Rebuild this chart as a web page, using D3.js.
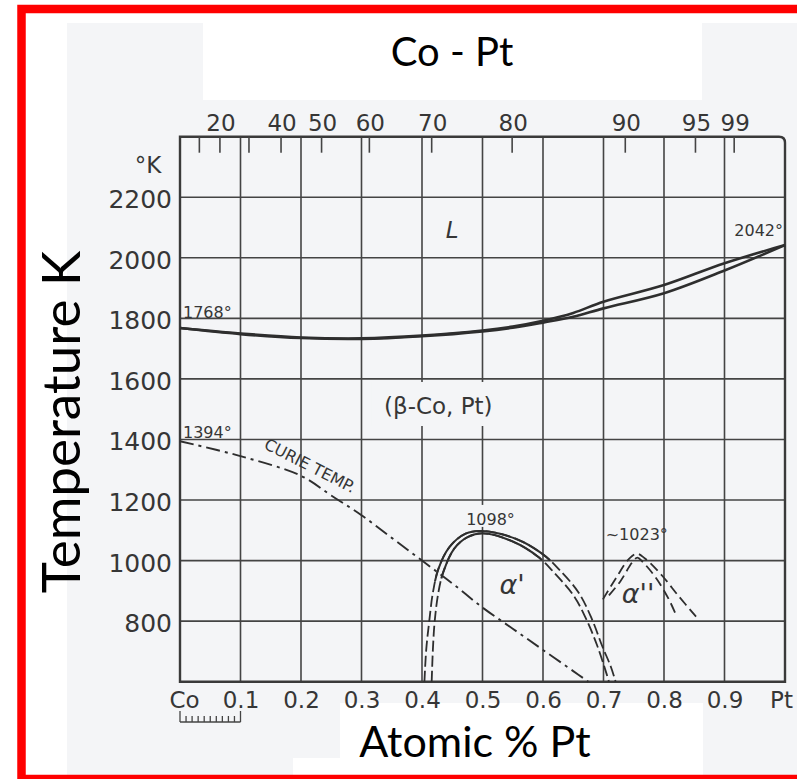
<!DOCTYPE html>
<html>
<head>
<meta charset="utf-8">
<script src="https://cdn.jsdelivr.net/npm/d3@7"></script>
<style>
  html, body { margin: 0; padding: 0; background: #ffffff; }
  svg { display: block; }
</style>
</head>
<body>
<svg id="chart" width="797" height="779"></svg>
<script>
// ---- Composition axis: atomic fraction of Pt (0 = pure Co, 1 = pure Pt)
const atomicTicks  = [0, 0.1, 0.2, 0.3, 0.4, 0.5, 0.6, 0.7, 0.8, 0.9, 1.0];
const atomicLabels = ["Co", "0.1", "0.2", "0.3", "0.4", "0.5", "0.6", "0.7", "0.8", "0.9", "Pt"];

// ---- Weight-percent Pt scale on the top edge, at its atomic-fraction position
const weightLabels   = ["", "20", "", "40", "50", "60", "70", "80", "90", "95", "99"];
const weightAtAtomic = [0.032, 0.066, 0.114, 0.167, 0.234, 0.313, 0.416, 0.549, 0.736, 0.852, 0.916];

// ---- Temperature axis (K)
const tempTicks  = [800, 1000, 1200, 1400, 1600, 1800, 2000, 2200];
const tempDomain = [600, 2400];

// ---- Phase boundaries: [atomic fraction Pt, T in K]
const liquidus = [[0, 1768], [0.1, 1750], [0.2, 1737], [0.3, 1734], [0.4, 1743], [0.5, 1760],
                  [0.55, 1773], [0.6, 1792], [0.65, 1818], [0.7, 1855], [0.8, 1910],
                  [0.9, 1982], [1.0, 2042]];
const solidus  = [[0, 1768], [0.1, 1748], [0.2, 1735], [0.3, 1732], [0.4, 1741], [0.5, 1757],
                  [0.55, 1769], [0.6, 1786], [0.65, 1805], [0.7, 1833], [0.8, 1883],
                  [0.9, 1958], [1.0, 2042]];
const curieTemp = [[0, 1394], [0.1, 1345], [0.2, 1280], [0.25, 1215], [0.3, 1150], [0.35, 1075],
                   [0.4, 1000], [0.45, 925], [0.5, 845], [0.55, 775], [0.6, 705], [0.65, 635],
                   [0.675, 600]];
// ordered alpha' (CoPt) region, two boundary lines
const alphaPrimeOuter = [[0.404, 600], [0.407, 706], [0.412, 800], [0.418, 894], [0.427, 972],
                         [0.445, 1044], [0.472, 1089], [0.5, 1098], [0.555, 1072], [0.599, 1022],
                         [0.626, 972], [0.659, 894], [0.681, 806], [0.698, 717], [0.712, 650],
                         [0.72, 600]];
const alphaPrimeInner = [[0.416, 600], [0.418, 706], [0.421, 800], [0.427, 894], [0.435, 961],
                         [0.453, 1039], [0.476, 1078], [0.5, 1090], [0.55, 1063], [0.593, 1011],
                         [0.618, 961], [0.651, 883], [0.673, 800], [0.69, 717], [0.703, 639],
                         [0.709, 600]];
// ordered alpha'' (CoPt3) region, two boundary lines
const alphaDoublePrimeOuter = [[0.699, 872], [0.72, 940], [0.741, 1003], [0.755, 1023],
                               [0.768, 1008], [0.797, 950], [0.824, 883], [0.853, 815]];
const alphaDoublePrimeInner = [[0.709, 885], [0.728, 932], [0.747, 993], [0.756, 1010],
                               [0.765, 995], [0.786, 945], [0.808, 872], [0.821, 815]];

// ---- Special temperatures marked on the diagram
const pureCoMelt = 1768, purePtMelt = 2042, coCurie = 1394;
const alphaPrimeMax = 1098, alphaDoublePrimeMax = 1023;

// ---------------------------------------------------------------------------
const svg = d3.select("#chart");
const W = 797, H = 779;
const plot = { left: 180, right: 785, top: 136.7, bottom: 681.7 };

const x = d3.scaleLinear().domain([0, 1]).range([plot.left, plot.right]);
const y = d3.scaleLinear().domain(tempDomain).range([plot.bottom, plot.top]);

const paper = "#f4f5f7";
const ink = "#363636";
const labelFont = "'DejaVu Sans', sans-serif";
const bigFont = "Lato, 'Open Sans', sans-serif";

// page
svg.append("rect").attr("width", W).attr("height", H).attr("fill", "#ffffff");
svg.append("rect").attr("x", 67).attr("y", 23).attr("width", W - 67).attr("height", 752).attr("fill", paper);
svg.append("rect").attr("x", 203).attr("y", 23).attr("width", 499).attr("height", 77).attr("fill", "#ffffff");
svg.append("rect").attr("x", 340).attr("y", 703).attr("width", 363).attr("height", 72).attr("fill", "#ffffff");
svg.append("rect").attr("x", 293).attr("y", 758).attr("width", 47).attr("height", 17).attr("fill", "#ffffff");

// grid
const grid = svg.append("g").attr("stroke", "#444").attr("stroke-width", 1.6).attr("fill", "none");
grid.selectAll("line.v").data(atomicTicks.slice(1, -1)).join("line")
  .attr("x1", d => x(d)).attr("x2", d => x(d))
  .attr("y1", plot.top).attr("y2", plot.bottom);
grid.selectAll("line.h").data(tempTicks).join("line")
  .attr("x1", plot.left).attr("x2", plot.right)
  .attr("y1", d => y(d)).attr("y2", d => y(d));

// frame
svg.append("path")
  .attr("d", `M${plot.left},${plot.bottom} V${plot.top} H${plot.right - 6} Q${plot.right},${plot.top} ${plot.right},${plot.top + 6} V${plot.bottom} Z`)
  .attr("fill", "none").attr("stroke", "#3a3a3a").attr("stroke-width", 2.4);

// top weight-percent ticks
const topAxis = svg.append("g");
topAxis.selectAll("line").data(weightAtAtomic).join("line")
  .attr("x1", d => x(d)).attr("x2", d => x(d))
  .attr("y1", plot.top).attr("y2", plot.top + 16)
  .attr("stroke", "#444").attr("stroke-width", 1.6);
topAxis.selectAll("text").data(weightAtAtomic).join("text")
  .attr("x", d => x(d) + 1).attr("y", plot.top - 6)
  .attr("text-anchor", "middle")
  .attr("font-family", labelFont).attr("font-size", 23).attr("fill", ink)
  .text((d, i) => weightLabels[i]);

// left temperature labels
const leftAxis = d3.axisLeft(y).tickValues(tempTicks).tickSize(0).tickPadding(8).tickFormat(d3.format("d"));
const gl = svg.append("g").attr("transform", `translate(${plot.left},0)`).call(leftAxis);
gl.select(".domain").remove();
gl.selectAll("text").attr("font-family", labelFont).attr("font-size", 25).attr("fill", ink).attr("dy", "0.42em");
svg.append("text").attr("x", 148).attr("y", 173).attr("text-anchor", "middle")
  .attr("font-family", labelFont).attr("font-size", 23).attr("fill", ink).text("°K");

// bottom composition labels
const bottomAxis = d3.axisBottom(x).tickValues(atomicTicks).tickSize(0).tickPadding(10)
  .tickFormat((d, i) => atomicLabels[i]);
const gb = svg.append("g").attr("transform", `translate(0,${plot.bottom})`).call(bottomAxis);
gb.select(".domain").remove();
gb.selectAll("text").attr("font-family", labelFont).attr("font-size", 23).attr("fill", ink)
  .attr("dx", (d, i) => i === 0 ? 4 : (i === atomicTicks.length - 1 ? -4 : 0));

// small ruler under "Co 0.1"
const ruler = svg.append("g").attr("stroke", "#444").attr("stroke-width", 1.3);
ruler.append("line").attr("x1", x(0)).attr("x2", x(0.1)).attr("y1", 722).attr("y2", 722);
ruler.selectAll("line.t").data(d3.range(0, 11)).join("line")
  .attr("x1", d => x(d / 100)).attr("x2", d => x(d / 100))
  .attr("y1", 722).attr("y2", d => (d === 0 || d === 10) ? 711 : 716);

// label backgrounds interrupting the grid
function paperBox(cx, cy, w, h) {
  svg.append("rect").attr("x", cx - w / 2).attr("y", cy - h / 2).attr("width", w).attr("height", h).attr("fill", paper);
}
paperBox(x(0.427), 404, 134, 44);
paperBox(x(0.5), y(alphaPrimeMax) - 15, 44, 22);

// ---- curves
const curves = svg.append("g").attr("fill", "none").attr("stroke", "#2e2e2e");
const smoothLine = d3.line().x(d => x(d[0])).y(d => y(d[1])).curve(d3.curveCatmullRom.alpha(0.5));

curves.append("path").datum(solidus).attr("d", smoothLine).attr("stroke-width", 2.6);
curves.append("path").datum(liquidus).attr("d", smoothLine).attr("stroke-width", 2.6);

curves.append("path").datum(curieTemp).attr("d", smoothLine)
  .attr("stroke-width", 1.9).attr("stroke-dasharray", "14,5,3,5");

// a boundary drawn dashed, with an optional solid stretch above given temperatures
function boundary(points, dash, solidLeftT, solidRightT) {
  const p = curves.append("path").datum(points).attr("d", smoothLine)
    .attr("stroke-width", 1.8).attr("stroke-dasharray", dash);
  if (solidLeftT == null) return;
  const node = p.node();
  const L = node.getTotalLength();
  let l1 = null, l2 = null;
  for (let s = 0; s <= L; s += 0.5) {
    const T = y.invert(node.getPointAtLength(s).y);
    if (l1 === null && T >= solidLeftT) l1 = s;
    if (T >= solidRightT) l2 = s;
  }
  curves.append("path").datum(points).attr("d", smoothLine)
    .attr("stroke-width", 2.0)
    .attr("stroke-dasharray", `0 ${l1} ${l2 - l1} ${L}`);
}
boundary(alphaPrimeOuter, "11,4", 930, 1000);
boundary(alphaPrimeInner, "11,4", 940, 1005);
boundary(alphaDoublePrimeOuter, "10,5");
boundary(alphaDoublePrimeInner, "10,5");

// ---- annotations
const ann = svg.append("g").attr("font-family", labelFont).attr("fill", ink);
ann.append("text").attr("x", x(0) + 3).attr("y", y(pureCoMelt) - 10).attr("font-size", 16).text(`${pureCoMelt}°`);
ann.append("text").attr("x", x(1) - 2).attr("y", y(purePtMelt) - 9).attr("font-size", 16)
  .attr("text-anchor", "end").text(`${purePtMelt}°`);
ann.append("text").attr("x", x(0) + 3).attr("y", y(coCurie) - 3).attr("font-size", 16).text(`${coCurie}°`);
ann.append("text").attr("x", x(0.5) + 8).attr("y", y(alphaPrimeMax) - 6).attr("font-size", 16)
  .attr("text-anchor", "middle").text(`${alphaPrimeMax}°`);
ann.append("text").attr("x", x(0.755)).attr("y", y(alphaDoublePrimeMax) - 14).attr("font-size", 16)
  .attr("text-anchor", "middle").text(`~${alphaDoublePrimeMax}°`);

ann.append("text").attr("x", 263).attr("y", 448).attr("font-size", 16)
  .attr("transform", "rotate(27,263,448)").text("CURIE TEMP.");

// phase field labels
ann.append("text").attr("x", x(0.45)).attr("y", y(2092) + 8).attr("font-size", 23)
  .attr("font-style", "italic").attr("text-anchor", "middle").text("L");
ann.append("text").attr("x", x(0.427)).attr("y", y(1510) + 8).attr("font-size", 23)
  .attr("text-anchor", "middle").text("(β-Co, Pt)");
ann.append("text").attr("x", x(0.549)).attr("y", y(916) + 8).attr("font-size", 27)
  .attr("font-style", "italic").attr("text-anchor", "middle").text("α'");
ann.append("text").attr("x", x(0.757)).attr("y", y(886) + 8).attr("font-size", 27)
  .attr("font-style", "italic").attr("text-anchor", "middle").text("α''");

// ---- titles
svg.append("text").attr("x", 452).attr("y", 66).attr("text-anchor", "middle")
  .attr("font-family", bigFont).attr("font-size", 40).attr("fill", "#000").text("Co - Pt");
svg.append("text").attr("x", 475).attr("y", 757).attr("text-anchor", "middle")
  .attr("font-family", bigFont).attr("font-size", 43).attr("fill", "#000").text("Atomic % Pt");
svg.append("text").attr("transform", "translate(80,422) rotate(-90)").attr("text-anchor", "middle")
  .attr("font-family", bigFont).attr("font-size", 53).attr("fill", "#000").text("Temperature K");

// red frame
svg.append("rect").attr("x", 21.5).attr("y", 9).attr("width", W).attr("height", 770)
  .attr("fill", "none").attr("stroke", "#ff0000").attr("stroke-width", 8.5);
</script>
</body>
</html>
